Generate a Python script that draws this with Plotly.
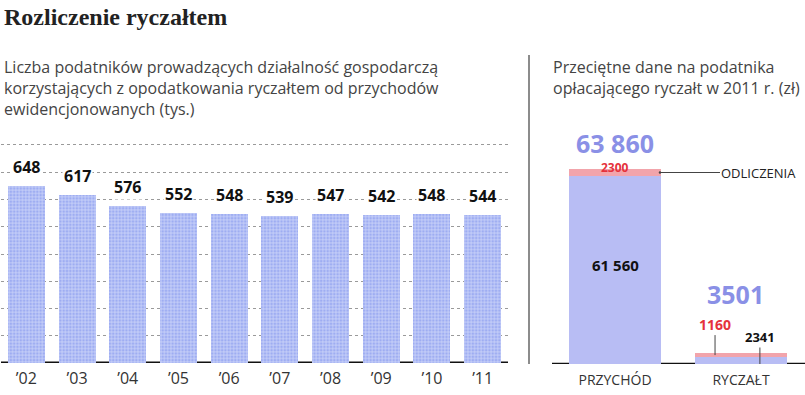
import plotly.graph_objects as go

# ---- data ----
years = ["’02", "’03", "’04", "’05", "’06", "’07", "’08", "’09", "’10", "’11"]
taxpayers = [648, 617, 576, 552, 548, 539, 547, 542, 548, 544]

categories = ["PRZYCHÓD", "RYCZAŁT"]
base_values = [61560, 2341]
deductions = [2300, 1160]
totals = [63860, 3501]

W, H = 805, 395

def px(x):
    return x / W

def py(y):
    return 1 - y / H

# left axis: 0 at 363 px, 800 at 145 px
L_BASE, L_800 = 363, 145
l_scale = (L_BASE - L_800) / 800
l_top_val = 810
l_top_px = L_BASE - l_top_val * l_scale

# right axis: 0 at 364 px, 63860 at 169 px
R_BASE = 364
r_scale = (364 - 169) / 63860
r_top_px = 145
r_top_val = (R_BASE - r_top_px) / r_scale

fig = go.Figure()

fig.add_trace(go.Bar(
    x=years, y=taxpayers, xaxis="x", yaxis="y",
    marker=dict(color="#9eadf2", line=dict(width=0),
                pattern=dict(shape="+", bgcolor="#9eadf2", fgcolor="#ffffff",
                             size=3.3, solidity=0.4)),
    hoverinfo="skip", showlegend=False,
))

fig.add_trace(go.Bar(
    x=categories, y=base_values, xaxis="x2", yaxis="y2",
    marker=dict(color="#b8bdf4", line=dict(width=0)),
    hoverinfo="skip", showlegend=False,
))
fig.add_trace(go.Bar(
    x=categories, y=deductions, xaxis="x2", yaxis="y2",
    marker=dict(color="#f2a4ab", line=dict(width=0)),
    hoverinfo="skip", showlegend=False,
))

annotations = []

annotations.append(dict(
    text="<b>Rozliczenie ryczałtem</b>", xref="paper", yref="paper",
    x=px(2), y=py(17), xanchor="left", yanchor="middle", showarrow=False,
    font=dict(family="Liberation Serif", size=24, color="#222222"),
))
annotations.append(dict(
    text="Liczba podatników prowadzących działalność gospodarczą<br>"
         "korzystających z opodatkowania ryczałtem od przychodów<br>"
         "ewidencjonowanych (tys.)",
    xref="paper", yref="paper", x=px(2), y=py(54), xanchor="left", yanchor="top",
    align="left", showarrow=False,
    font=dict(family="Open Sans", size=16, color="#444444"),
))
annotations.append(dict(
    text="Przeciętne dane na podatnika<br>opłacającego ryczałt w 2011 r. (zł)",
    xref="paper", yref="paper", x=px(551), y=py(54), xanchor="left", yanchor="top",
    align="left", showarrow=False,
    font=dict(family="Open Sans", size=16, color="#444444"),
))

for yr, v in zip(years, taxpayers):
    annotations.append(dict(
        text=f"<b>{v}</b>", x=yr, y=v, xref="x", yref="y",
        yanchor="bottom", yshift=6, showarrow=False,
        bgcolor="white", borderpad=1,
        font=dict(family="Open Sans", size=16, color="#111111"),
    ))

annotations.append(dict(
    text=f"<b>{totals[0]:,}</b>".replace(",", " "), x=categories[0], y=totals[0],
    xref="x2", yref="y2", yanchor="middle", yshift=26, showarrow=False,
    font=dict(family="Open Sans", size=25, color="#8a90e6"),
))
annotations.append(dict(
    text=f"<b>{deductions[0]}</b>", x=categories[0], y=totals[0],
    xref="x2", yref="y2", yanchor="middle", yshift=1, showarrow=False,
    font=dict(family="Open Sans", size=12, color="#e5323c"),
))
annotations.append(dict(
    text=f"<b>{base_values[0]:,}</b>".replace(",", " "), x=categories[0],
    y=base_values[0] / 2, xref="x2", yref="y2", yanchor="middle", yshift=5,
    showarrow=False,
    font=dict(family="Open Sans", size=15, color="#111111"),
))
annotations.append(dict(
    text="ODLICZENIA", x=0.357, y=base_values[0] + deductions[0] / 2,
    xref="x2", yref="y2", ax=99, ay=0, showarrow=True, arrowhead=6,
    arrowsize=0.6, arrowwidth=1, arrowcolor="#444444", standoff=0,
    font=dict(family="Open Sans", size=13, color="#222222"),
))
annotations.append(dict(
    text=f"<b>{totals[1]}</b>", x=categories[1], y=totals[1],
    xref="x2", yref="y2", yanchor="middle", yshift=59, xshift=-6, showarrow=False,
    font=dict(family="Open Sans", size=25, color="#8a90e6"),
))
annotations.append(dict(
    text=f"<b>{deductions[1]}</b>", x=1 - 0.206, y=base_values[1] + deductions[1] / 2,
    xref="x2", yref="y2", ax=0, ay=-31, showarrow=True, arrowhead=0,
    arrowwidth=1, arrowcolor="#444444", standoff=0,
    font=dict(family="Open Sans", size=14, color="#e5323c"),
))
annotations.append(dict(
    text=f"<b>{base_values[1]}</b>", x=1 + 0.15, y=0,
    xref="x2", yref="y2", ax=0, ay=-27, showarrow=True, arrowhead=0,
    arrowwidth=1, arrowcolor="#444444", standoff=0,
    font=dict(family="Open Sans", size=13, color="#111111"),
))

shapes = [
    dict(type="line", xref="x domain", yref="y", x0=0, x1=1, y0=0, y1=0,
         line=dict(color="#111111", width=3), layer="below"),
    dict(type="line", xref="x2 domain", yref="y2", x0=0, x1=1.01, y0=0, y1=0,
         line=dict(color="#111111", width=2.5), layer="below"),
    dict(type="line", xref="paper", yref="paper", x0=px(529), x1=px(529),
         y0=py(55), y1=py(364), line=dict(color="#666666", width=1.5)),
]

fig.update_layout(
    width=W, height=H,
    margin=dict(l=0, r=0, t=0, b=0, pad=0),
    paper_bgcolor="white", plot_bgcolor="white",
    barmode="stack", bargap=0.27,
    annotations=annotations, shapes=shapes,
    xaxis=dict(domain=[px(1), px(508)], type="category", showline=False,
               ticks="", showgrid=False, zeroline=False, automargin=False,
               tickfont=dict(family="Open Sans", size=16, color="#333333"),
               ticklabelstandoff=4),
    yaxis=dict(domain=[py(L_BASE), py(l_top_px)], range=[0, l_top_val], dtick=100,
               showticklabels=False, showgrid=True, gridcolor="#9a9a9a",
               griddash="dot", gridwidth=1, zeroline=False, showline=False,
               automargin=False),
    xaxis2=dict(domain=[px(552), px(804)], type="category", anchor="y2",
                showline=False, ticks="", showgrid=False, zeroline=False,
                automargin=False,
                tickfont=dict(family="Open Sans", size=14, color="#333333"),
                ticklabelstandoff=6),
    yaxis2=dict(domain=[py(R_BASE), py(r_top_px)], range=[0, r_top_val],
                anchor="x2", showticklabels=False, showgrid=False,
                zeroline=False, showline=False, automargin=False),
)

fig.write_html("out.html", config={"displayModeBar": False},
               post_script="document.body.style.margin='0';document.body.style.padding='0';")
